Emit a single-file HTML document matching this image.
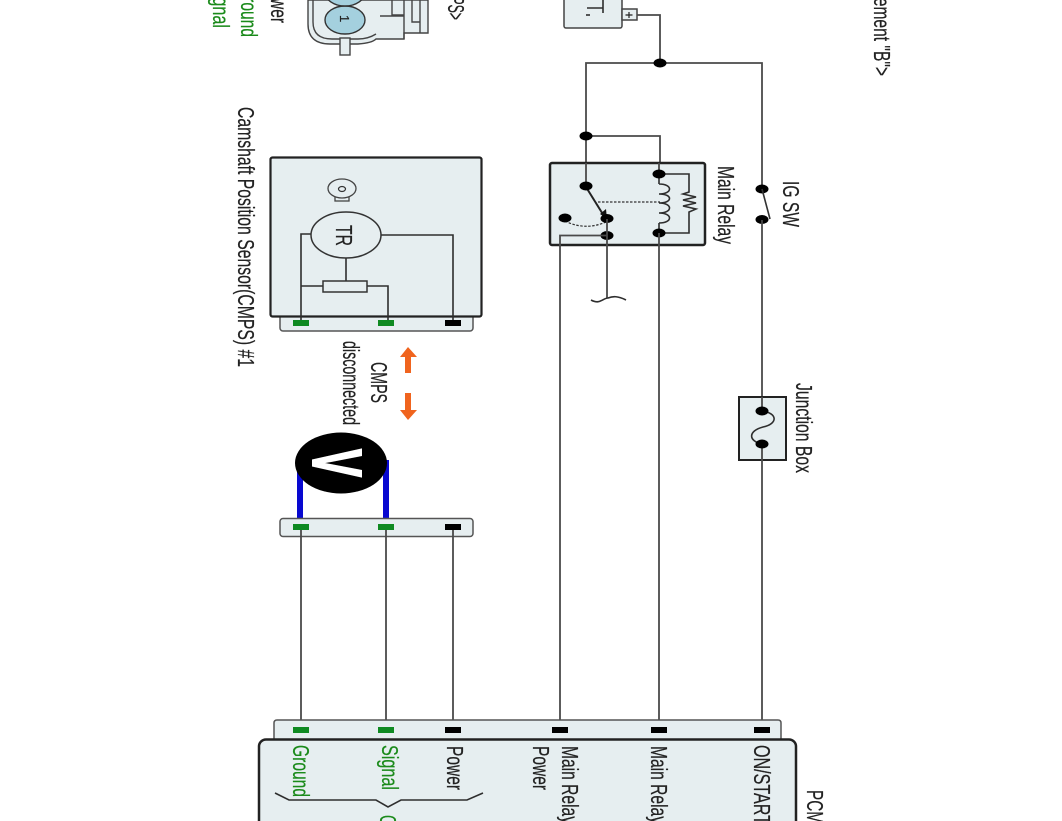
<!DOCTYPE html>
<html>
<head>
<meta charset="utf-8">
<style>
html,body{margin:0;padding:0;background:#fff;}
svg{display:block;filter:blur(0.35px);}
text{font-family:"Liberation Sans",sans-serif;font-size:23.500px;fill:#222;stroke:#222;stroke-width:0.2;}
.g{fill:#1a8a1a;stroke:#1a8a1a;}
.w{fill:none;stroke:#4a4a4a;stroke-width:1.8;}
.t{fill:none;stroke:#2e2e2e;stroke-width:1.6;}
.b{fill:#e6eef0;stroke:#444;stroke-width:1.5;}
.d{fill:#000;}
</style>
</head>
<body>
<svg width="1062" height="821" viewBox="0 0 1062 821" xmlns="http://www.w3.org/2000/svg">
<rect width="1062" height="821" fill="#fff"/>

<!-- top labels -->
<text class="g" transform="translate(213,-17) rotate(90)" textLength="45" lengthAdjust="spacingAndGlyphs">Signal</text>
<text class="g" transform="translate(241,-15) rotate(90)" textLength="52" lengthAdjust="spacingAndGlyphs">Ground</text>
<text transform="translate(271,-21) rotate(90)" textLength="44" lengthAdjust="spacingAndGlyphs">Power</text>
<text transform="translate(448,-30) rotate(90)" textLength="50" lengthAdjust="spacingAndGlyphs">&lt;CMPS&gt;</text>
<text transform="translate(874,-49) rotate(90)" textLength="125" lengthAdjust="spacingAndGlyphs">Arrangement "B"&gt;</text>

<!-- top sensor illustration -->
<path d="M308,0 V24 Q308,44 330,44 H358 Q372,43 376,39 H404 V33 H428 V0 Z" fill="#e6eef0" stroke="#444" stroke-width="1.4"/>
<path d="M313,0 V22 Q313,39 332,39 H358 Q368,39 376,34" fill="none" stroke="#444" stroke-width="1.4"/>
<path d="M380,16 H404 V39 M404,33 V0 M420,33 V0 M392,0 V15 H404 M412,0 V22 H420" fill="none" stroke="#444" stroke-width="1.4"/>
<ellipse cx="345" cy="20" rx="20" ry="14" fill="#a4d0de" stroke="#333" stroke-width="1.4"/>
<ellipse cx="345" cy="-8" rx="20" ry="14" fill="#a4d0de" stroke="#333" stroke-width="1.4"/>
<text transform="translate(340,15) rotate(90)" style="font-size:13px">1</text>
<rect x="340" y="38" width="10" height="17" fill="#e6eef0" stroke="#444" stroke-width="1.4"/>

<!-- battery -->
<rect x="564" y="-10" width="58" height="38" rx="2" class="b"/>
<path d="M587,8 H603 M603,0 V13" class="t" stroke-width="2"/>
<path d="M586,15 H590" class="t"/>
<rect x="622" y="9" width="15" height="11" class="b"/>
<path d="M625.500,15 H632.500 M629,12 V18" stroke="#222" stroke-width="1.2" fill="none"/>

<!-- wires top -->
<path d="M637,15 H660 V63" class="w"/>
<path d="M586,187 V63 H762 V189" class="w"/>
<path d="M586,136 H660 V174" class="w"/>
<ellipse cx="660" cy="63" rx="6.500" ry="4.500" class="d"/>
<ellipse cx="586" cy="136" rx="6.500" ry="4.500" class="d"/>

<!-- relay -->
<rect x="550" y="163" width="155" height="82" rx="2" class="b" style="stroke:#222;stroke-width:2.500"/>
<path d="M586,163 V187" class="w"/>
<path d="M659,163 V174" class="w"/>
<path d="M586,187 L604,216" stroke="#222" stroke-width="2" fill="none"/>
<path d="M600,214 L607,219 L606,209 Z" fill="#111"/>
<path d="M598,202 H660" stroke="#333" stroke-width="1.2" stroke-dasharray="2.500 1.500" fill="none"/>
<path d="M565,221 Q585,231 606,222" stroke="#333" stroke-width="1.2" stroke-dasharray="2.500 1.500" fill="none"/>
<path d="M659,174 V184 M659,233 V223 M659,184 C673,184 673,194 659,194 C673,194 673,203 659,203 C673,203 673,213 659,213 C673,213 673,223 659,223" class="t"/>
<path d="M659,174 H689 V192 L683,194 L696,197 L683,200 L696,203 L683,206 L696,209 L689,212 V233 H659" class="t"/>
<ellipse cx="586" cy="186" rx="6.500" ry="4.500" class="d"/>
<ellipse cx="565" cy="218" rx="6.500" ry="4.500" class="d"/>
<ellipse cx="607" cy="218.500" rx="6.500" ry="4.500" class="d"/>
<ellipse cx="607" cy="235.500" rx="6.500" ry="4.500" class="d"/>
<ellipse cx="659" cy="174" rx="6.500" ry="4.500" class="d"/>
<ellipse cx="659" cy="233" rx="6.500" ry="4.500" class="d"/>
<path d="M607,219 V298" class="w"/>
<path d="M591,300 C600,305 603,298 608,298 C613,296 618,296 626,300" class="t"/>
<path d="M607,235.500 H560 V730" class="w"/>
<path d="M659,233 V730" class="w"/>
<text transform="translate(718,166) rotate(90)" textLength="78" lengthAdjust="spacingAndGlyphs">Main Relay</text>

<!-- IG SW -->
<ellipse cx="762" cy="189" rx="6.500" ry="4.500" class="d"/>
<ellipse cx="762" cy="219.500" rx="6.500" ry="4.500" class="d"/>
<path d="M762,189 L770,219" stroke="#333" stroke-width="1.600" fill="none"/>
<path d="M762,220 V397" class="w"/>
<text transform="translate(783,181) rotate(90)" textLength="46" lengthAdjust="spacingAndGlyphs">IG SW</text>

<!-- junction box -->
<rect x="739" y="397" width="47" height="63" class="b" style="stroke:#222;stroke-width:2"/>
<path d="M762,397 V411 M762,444 V730" class="w"/>
<path d="M762,411 C778,413 778,424 763,427 C748,431 748,441 762,444" class="t"/>
<ellipse cx="762" cy="411" rx="6.500" ry="4.500" class="d"/>
<ellipse cx="762" cy="444" rx="6.500" ry="4.500" class="d"/>
<text transform="translate(796,383) rotate(90)" textLength="90" lengthAdjust="spacingAndGlyphs">Junction Box</text>

<!-- CMPS sensor -->
<text transform="translate(238,107) rotate(90)" textLength="260" lengthAdjust="spacingAndGlyphs">Camshaft Position Sensor(CMPS) #1</text>
<rect x="280" y="312" width="193" height="19" rx="3" class="b" style="stroke:#555"/>
<rect x="270.500" y="157.500" width="211" height="159" rx="2" class="b" style="stroke:#222;stroke-width:2.200"/>
<rect x="335" y="194" width="14" height="7" class="b" style="stroke:#444;stroke-width:1.300"/>
<ellipse cx="342" cy="188.500" rx="14" ry="9.500" class="b" style="stroke:#444;stroke-width:1.300"/>
<ellipse cx="342" cy="189" rx="3.500" ry="2.500" fill="none" stroke="#333" stroke-width="1.200"/>
<path d="M311,234 H301 V320" class="t"/>
<path d="M381,235 H453 V320" class="t"/>
<path d="M346,258 V281" class="t"/>
<path d="M301,286 H323 M367,286 H388 V320" class="t"/>
<rect x="323" y="281" width="44" height="11" class="b" style="stroke:#333"/>
<ellipse cx="346" cy="235" rx="35" ry="23" class="b" style="stroke:#333"/>
<text transform="translate(336,225) rotate(90)" textLength="21" lengthAdjust="spacingAndGlyphs" style="font-size:23px">TR</text>
<rect x="293" y="320" width="16" height="6" fill="#0f8a22"/>
<rect x="378" y="320" width="16" height="6" fill="#0f8a22"/>
<rect x="445" y="320" width="16" height="6" fill="#000"/>

<!-- arrows / disconnected -->
<path d="M405,373 V357 H400 L408,347 L417,357 H411 V373 Z" fill="#f0641e"/>
<path d="M405,393 V410 H400 L408,420 L417,410 H411 V393 Z" fill="#f0641e"/>
<text transform="translate(371,362) rotate(90)" textLength="41" lengthAdjust="spacingAndGlyphs">CMPS</text>
<text transform="translate(343,341) rotate(90)" textLength="84" lengthAdjust="spacingAndGlyphs">disconnected</text>

<!-- voltmeter -->
<path d="M300,470 V526 M386,460 V526" stroke="#0808d0" stroke-width="6" fill="none"/>
<ellipse cx="341" cy="463" rx="46" ry="30.500" fill="#000"/>
<text transform="translate(313,449) rotate(90)" textLength="28" lengthAdjust="spacingAndGlyphs" style="font-size:70px;font-weight:bold;fill:#fff;stroke:#fff;stroke-width:2">V</text>

<!-- lower connector -->
<rect x="280" y="518.500" width="193" height="18" rx="3" class="b" style="stroke:#555"/>
<path d="M301,527 V730 M386,527 V730 M453,527 V730" class="w"/>
<rect x="293" y="524" width="16" height="6" fill="#0f8a22"/>
<rect x="378" y="524" width="16" height="6" fill="#0f8a22"/>
<rect x="445" y="524" width="16" height="6" fill="#000"/>

<!-- PCM -->
<path d="M274,745 V723 Q274,720 277,720 H778 Q781,720 781,723 V745 Z" class="b" style="stroke:#555"/>
<rect x="259" y="739.500" width="537" height="120" rx="7" class="b" style="stroke:#222;stroke-width:2.500"/>
<rect x="293" y="727" width="16" height="6" fill="#0f8a22"/>
<rect x="378" y="727" width="16" height="6" fill="#0f8a22"/>
<rect x="445" y="727" width="16" height="6" fill="#000"/>
<rect x="552" y="727" width="16" height="6" fill="#000"/>
<rect x="651" y="727" width="16" height="6" fill="#000"/>
<rect x="754" y="727" width="16" height="6" fill="#000"/>
<text class="g" transform="translate(293,745) rotate(90)" textLength="52" lengthAdjust="spacingAndGlyphs">Ground</text>
<text class="g" transform="translate(382,745) rotate(90)" textLength="45" lengthAdjust="spacingAndGlyphs">Signal</text>
<text transform="translate(447,746) rotate(90)" textLength="44" lengthAdjust="spacingAndGlyphs">Power</text>
<text transform="translate(533,746) rotate(90)" textLength="44" lengthAdjust="spacingAndGlyphs">Power</text>
<text transform="translate(562,746) rotate(90)" textLength="78" lengthAdjust="spacingAndGlyphs">Main Relay</text>
<text transform="translate(651,746) rotate(90)" textLength="78" lengthAdjust="spacingAndGlyphs">Main Relay</text>
<text transform="translate(754,745) rotate(90)" textLength="80" lengthAdjust="spacingAndGlyphs">ON/START</text>
<text transform="translate(807,790) rotate(90)" textLength="34" lengthAdjust="spacingAndGlyphs">PCM</text>
<path d="M275,793 L289,800 H376 L388,807 L401,800 H467 L483,793" class="t"/>
<text class="g" transform="translate(380,815) rotate(90)" textLength="41" lengthAdjust="spacingAndGlyphs">CMPS</text>
</svg>
</body>
</html>
